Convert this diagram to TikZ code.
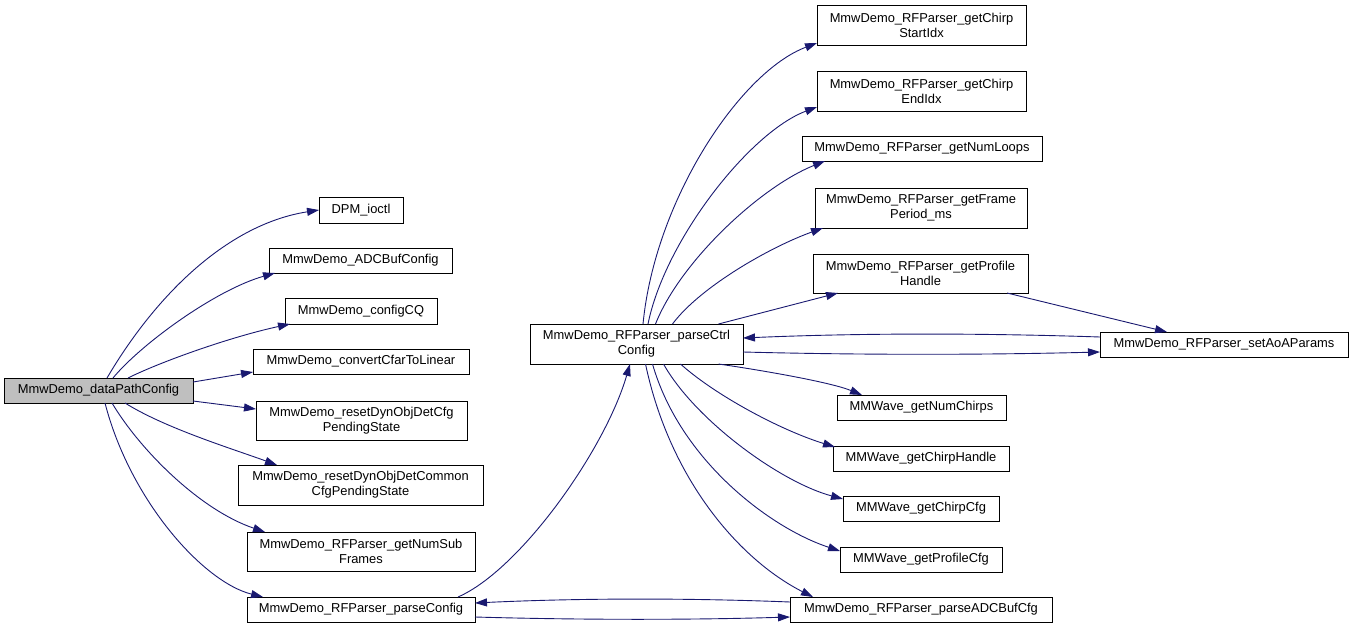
\documentclass[tikz,border=0pt]{standalone}
\usepackage{fontspec}
\setmainfont{Liberation Sans}
\usetikzlibrary{arrows.meta}
\definecolor{edgeblue}{HTML}{191970}
\definecolor{maingray}{HTML}{BFBFBF}
\begin{document}
\begin{tikzpicture}[x=1pt,y=-1pt,
  box/.style={draw=black, line width=0.9pt, fill=white, inner sep=0pt, outer sep=0pt, align=center,
    font=\fontsize{12.9}{15}\selectfont},
  edge/.style={draw=edgeblue, line width=0.9pt, -{Triangle[length=12pt,width=8pt]}},
]
\useasboundingbox (0,0) rectangle (1352,629);
% column 0
\node[box, fill=maingray, minimum width=189pt, minimum height=25pt] (main) at (98.5,390.5) {MmwDemo\_dataPathConfig};
% column 1
\node[box, minimum width=84pt, minimum height=26pt] (dpm) at (361,210) {DPM\_ioctl};
\node[box, minimum width=183pt, minimum height=25pt] (adcbuf) at (360.5,260.5) {MmwDemo\_ADCBufConfig};
\node[box, minimum width=152pt, minimum height=26pt] (cq) at (361,311) {MmwDemo\_configCQ};
\node[box, minimum width=216pt, minimum height=25pt] (cfar) at (361,361.5) {MmwDemo\_convertCfarToLinear};
\node[box, minimum width=211pt, minimum height=39pt] (reset1) at (361.5,420.5) {MmwDemo\_resetDynObjDetCfg\\PendingState};
\node[box, minimum width=245pt, minimum height=40pt] (reset2) at (360.5,485) {MmwDemo\_resetDynObjDetCommon\\CfgPendingState};
\node[box, minimum width=228pt, minimum height=39pt] (numsub) at (361,551.5) {MmwDemo\_RFParser\_getNumSub\\Frames};
\node[box, minimum width=228pt, minimum height=25pt] (parsecfg) at (361,609.5) {MmwDemo\_RFParser\_parseConfig};
% column 2
\node[box, minimum width=213pt, minimum height=40pt] (parsectrl) at (636.5,344) {MmwDemo\_RFParser\_parseCtrl\\Config};
% column 3
\node[box, minimum width=209pt, minimum height=40pt] (startidx) at (921.5,25) {MmwDemo\_RFParser\_getChirp\\StartIdx};
\node[box, minimum width=209pt, minimum height=40pt] (endidx) at (921.5,91) {MmwDemo\_RFParser\_getChirp\\EndIdx};
\node[box, minimum width=240pt, minimum height=25pt] (numloops) at (922,148.5) {MmwDemo\_RFParser\_getNumLoops};
\node[box, minimum width=212pt, minimum height=40pt] (frameperiod) at (921,208) {MmwDemo\_RFParser\_getFrame\\Period\_ms};
\node[box, minimum width=215pt, minimum height=39pt] (profhandle) at (920.5,273.5) {MmwDemo\_RFParser\_getProfile\\Handle};
\node[box, minimum width=169pt, minimum height=25pt] (numchirps) at (921.5,407.5) {MMWave\_getNumChirps};
\node[box, minimum width=176pt, minimum height=25pt] (chirphandle) at (921,458.5) {MMWave\_getChirpHandle};
\node[box, minimum width=156pt, minimum height=25pt] (chirpcfg) at (921,508.5) {MMWave\_getChirpCfg};
\node[box, minimum width=162pt, minimum height=25pt] (profilecfg) at (921,559.5) {MMWave\_getProfileCfg};
\node[box, minimum width=262pt, minimum height=25pt] (parseadc) at (921,609.5) {MmwDemo\_RFParser\_parseADCBufCfg};
% column 4
\node[box, minimum width=248pt, minimum height=25pt] (setaoa) at (1224,344.5) {MmwDemo\_RFParser\_setAoAParams};

% edges from main
\draw[edge] ([xshift=8.5pt]main.north) .. controls (157,293) and (229,224) .. (dpm.west);
\draw[edge] ([xshift=14.5pt]main.north) .. controls (140,345) and (215,290) .. ([xshift=6pt]adcbuf.south west);
\draw[edge] ([xshift=29.5pt]main.north) .. controls (160,362) and (230,337) .. ([xshift=5pt]cq.south west);
\draw[edge] ([yshift=8.5pt]main.east) -- ([yshift=2pt]cfar.south west);
\draw[edge] ([yshift=-10.5pt]main.east) -- ([yshift=11.5pt]reset1.west);
\draw[edge] ([xshift=26.5pt]main.south) .. controls (165,428) and (230,448) .. ([xshift=39pt]reset2.north west);
\draw[edge] ([xshift=13.5pt]main.south) .. controls (140,450) and (200,510) .. ([xshift=18pt]numsub.north west);
\draw[edge] ([xshift=6.5pt]main.south) .. controls (130,500) and (203,582) .. ([xshift=16pt]parsecfg.north west);
% parseConfig
\draw[edge] ([xshift=-17pt]parsecfg.north east) .. controls (520,570) and (605,450) .. ([xshift=-6.5pt]parsectrl.south);
\draw[edge] ([yshift=-7.5pt]parsecfg.east) .. controls (580,620) and (690,620) .. ([yshift=-7.5pt]parseadc.west);
\draw[edge] ([yshift=7.5pt]parseadc.west) .. controls (690,598) and (580,598) .. ([yshift=6.5pt]parsecfg.east);
% parseCtrlConfig top
\draw[edge] ([xshift=6.5pt]parsectrl.north) .. controls (655,200) and (740,72) .. ([yshift=2pt]startidx.south west);
\draw[edge] ([xshift=11.5pt]parsectrl.north) .. controls (665,240) and (750,132) .. ([yshift=4pt]endidx.south west);
\draw[edge] ([xshift=19pt]parsectrl.north) .. controls (680,262) and (760,187) .. ([xshift=23pt]numloops.south west);
\draw[edge] ([xshift=36pt]parsectrl.north) .. controls (700,287) and (770,247) .. ([xshift=8pt]frameperiod.south west);
\draw[edge] ([xshift=82pt]parsectrl.north) -- ([xshift=25pt]profhandle.south west);
% parseCtrlConfig bottom
\draw[edge] ([xshift=82pt]parsectrl.south) .. controls (760,370) and (830,382) .. ([xshift=25pt]numchirps.north west);
\draw[edge] ([xshift=44pt]parsectrl.south) .. controls (715,395) and (780,430) .. ([xshift=2pt,yshift=-1pt]chirphandle.north west);
\draw[edge] ([xshift=27pt]parsectrl.south) .. controls (695,420) and (780,482) .. ([yshift=-3pt]chirpcfg.north west);
\draw[edge] ([xshift=16pt]parsectrl.south) .. controls (680,460) and (770,528) .. ([yshift=8.5pt]profilecfg.west);
\draw[edge] ([xshift=9pt]parsectrl.south) .. controls (670,480) and (740,560) .. ([xshift=23pt]parseadc.north west);
% setAoAParams
\draw[edge] ([xshift=-21pt]profhandle.south east) -- ([xshift=67pt]setaoa.north west);
\draw[edge] ([yshift=7.5pt]setaoa.west) .. controls (980,333) and (860,333) .. ([yshift=6pt]parsectrl.east);
\draw[edge] ([yshift=-8pt]parsectrl.east) .. controls (860,355) and (980,355) .. ([yshift=-7.5pt]setaoa.west);
\end{tikzpicture}
\end{document}
